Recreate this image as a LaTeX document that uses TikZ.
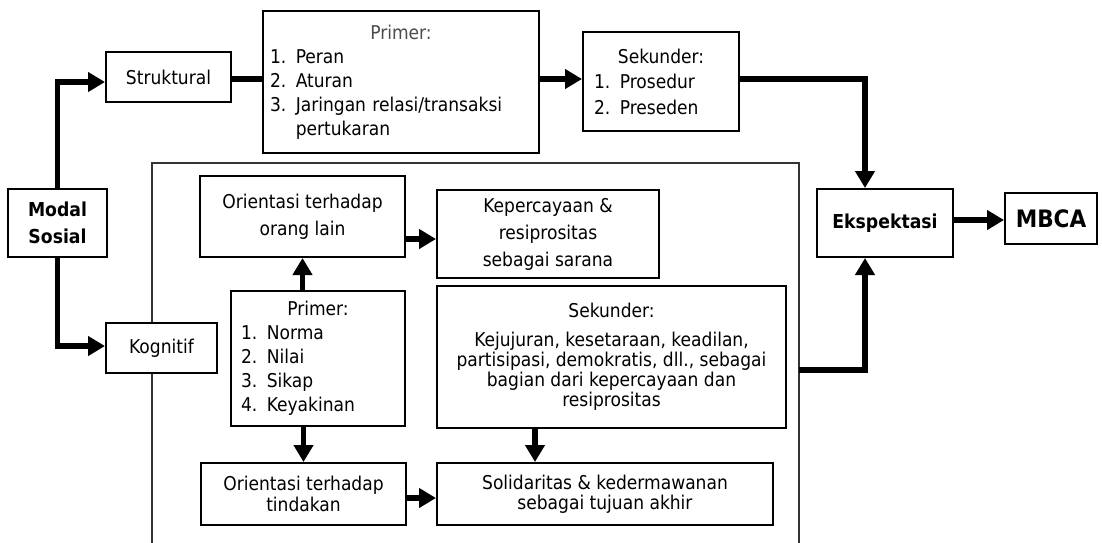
\documentclass[tikz,border=0pt]{standalone}
\usepackage{fontspec}
\setmainfont{DejaVu Sans Condensed}
\usetikzlibrary{arrows.meta}
\begin{document}
\begin{tikzpicture}[x=1pt,y=-1pt,
  box/.style={draw, line width=2pt, fill=white, inner sep=0pt, align=center,
    font={\fontsize{19}{27}\selectfont}},
  listbox/.style={box, align=left},
  boldbox/.style={box, font={\fontsize{19.2}{27}\bfseries\selectfont}},
  conn/.style={line width=5.5pt},
  tip/.style={-{Triangle[length=17pt,width=19pt]}},
  frame/.style={line width=1.6pt, draw=black!80}]
\useasboundingbox (0,0) rectangle (1102,542);

% open frame around the cognitive part
\draw[frame] (152,545) -- (152,163) -- (799,163) -- (799,545);

% left column
\node[boldbox, minimum width=99pt, minimum height=68pt] (modal) at (57.5,223) {Modal\\Sosial};
\node[box, minimum width=125pt, minimum height=50pt] (struk) at (168.5,77) {Struktural};
\node[box, minimum width=111pt, minimum height=50pt] (kog) at (161.5,348) {Kognitif};

% structural branch
\node[listbox, minimum width=276pt, minimum height=142pt, text width=262pt,
  font={\fontsize{19}{24}\selectfont}] (prim1) at (401,82)
  {\makebox[\linewidth]{\color{black!70}Primer:}\\1. Peran\\2. Aturan\\3. Jaringan relasi/transaksi\\\phantom{3. }pertukaran};
\node[listbox, minimum width=156pt, minimum height=99pt, text width=134pt,
  font={\fontsize{19}{25.5}\selectfont}] (sek1) at (661,81.5)
  {\makebox[\linewidth]{Sekunder:}\\1. Prosedur\\2. Preseden};

% cognitive branch
\node[box, minimum width=205pt, minimum height=81pt] (orang) at (302.5,216.5) {Orientasi terhadap\\orang lain};
\node[box, minimum width=222pt, minimum height=88pt] (kepe) at (548,234) {Kepercayaan \&\\resiprositas\\sebagai sarana};
\node[listbox, minimum width=174pt, minimum height=135pt, text width=154pt,
  font={\fontsize{19}{24}\selectfont}] (prim2) at (318,358.5)
  {\makebox[\linewidth]{Primer:}\\1. Norma\\2. Nilai\\3. Sikap\\4. Keyakinan};
\node[box, minimum width=349pt, minimum height=142pt,
  font={\fontsize{19}{20}\selectfont}] (sek2) at (611.5,357)
  {Sekunder:\\[9pt]Kejujuran, kesetaraan, keadilan,\\partisipasi, demokratis, dll., sebagai\\bagian dari kepercayaan dan\\resiprositas};
\node[box, minimum width=205pt, minimum height=62pt,
  font={\fontsize{19}{21}\selectfont}] (tind) at (303.5,494) {Orientasi terhadap\\tindakan};
\node[box, minimum width=336pt, minimum height=62pt,
  font={\fontsize{19}{20}\selectfont}] (soli) at (605,494) {Solidaritas \& kedermawanan\\sebagai tujuan akhir};

% outcome
\node[boldbox, minimum width=136pt, minimum height=68pt] (eksp) at (885,223) {Ekspektasi};
\node[boldbox, minimum width=92pt, minimum height=51pt, font={\fontsize{24}{27}\bfseries\selectfont}] (mbca) at (1051,218.5) {MBCA};

\coordinate (frameout) at (799,370);
\coordinate (kepein) at ([yshift=-5pt]kepe.west);

% connectors
\draw[conn,tip] (modal.north) |- ([yshift=-5pt]struk.west);
\draw[conn,tip] (modal.south) |- ([yshift=2pt]kog.west);
\draw[conn] ([yshift=-2pt]struk.east) -- ([yshift=-2pt]struk.east -| prim1.west);
\draw[conn,tip] ([yshift=3pt]prim1.east) -- ([yshift=3pt]prim1.east -| sek1.west);
\draw[conn,tip] ([yshift=2.5pt]sek1.east) -| ([xshift=-20pt]eksp.north);
\draw[conn,tip] (frameout) -| ([xshift=-20pt]eksp.south);
\draw[conn,tip] ([yshift=3pt]eksp.east) -- ([yshift=3pt]eksp.east -| mbca.west);
\draw[conn,tip] (orang.east |- kepein) -- (kepein);
\draw[conn,tip] (prim2.north -| orang.south) -- (orang.south);
\draw[conn,tip] (prim2.south -| tind.north) -- (tind.north);
\draw[conn,tip] ([xshift=-76.5pt]sek2.south) -- ([xshift=-76.5pt]sek2.south |- soli.north);
\draw[conn,tip] ([yshift=-4pt]tind.east) -- ([yshift=-4pt]tind.east -| soli.west);
\end{tikzpicture}
\end{document}
